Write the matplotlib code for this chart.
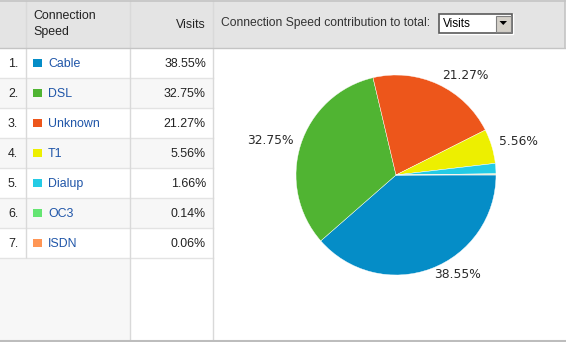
import matplotlib
matplotlib.use("Agg")
import matplotlib.pyplot as plt
from matplotlib.patches import Rectangle, Polygon

# Connection speed breakdown
categories = ["Cable", "DSL", "Unknown", "T1", "Dialup", "OC3", "ISDN"]
visits_pct = [38.55, 32.75, 21.27, 5.56, 1.66, 0.14, 0.06]
colors = ["#058dc7", "#50b432", "#ed561b", "#edef00", "#24cbe5", "#64e572", "#ff9655"]
header_name = "Connection\nSpeed"
header_value = "Visits"
panel_title = "Connection Speed contribution to total:"
metric_choice = "Visits"

W, H = 566, 342
fig = plt.figure(figsize=(W / 100, H / 100), dpi=100)
bg = fig.add_axes([0, 0, 1, 1])
bg.set_xlim(0, W)
bg.set_ylim(H, 0)
bg.axis("off")

TABLE_FONT = "Liberation Sans"
FS = 8.9
grid = "#d9d9d9"
head_bg = "#e4e4e4"
header_h = 48
row_h = 30
col_x = [0, 26, 130, 213, 565]
bottom = 340.5

# header band
bg.add_patch(Rectangle((0, 0), col_x[4], header_h, fc=head_bg, ec="none"))

# rows
n = len(categories)
for i, (name, val, c) in enumerate(zip(categories, visits_pct, colors)):
    y0 = header_h + i * row_h
    fill = "#ffffff" if i % 2 == 0 else "#f7f7f7"
    bg.add_patch(Rectangle((0, y0), col_x[3], row_h, fc=fill, ec="none"))
    yc = y0 + row_h / 2
    bg.text(8, yc + 0.8, f"{i + 1}.", fontsize=FS, family=TABLE_FONT,
            color="#222222", ha="left", va="center")
    bg.add_patch(Rectangle((33, yc - 4.5), 8.5, 8.5, fc=c, ec="none"))
    bg.text(48, yc + 0.8, name, fontsize=FS, family=TABLE_FONT,
            color="#1f55a8", ha="left", va="center")
    bg.text(206, yc + 0.8, f"{val:.2f}%", fontsize=FS, family=TABLE_FONT,
            color="#222222", ha="right", va="center")
    bg.plot([0, col_x[3]], [y0 + row_h, y0 + row_h], color="#e3e3e3", lw=1)

rows_end = header_h + n * row_h
# empty area under the rows
bg.add_patch(Rectangle((0, rows_end), col_x[2], bottom - rows_end, fc="#f7f7f7", ec="none"))

# header texts
bg.text(33, 24, header_name, fontsize=FS, family=TABLE_FONT, color="#222222",
        ha="left", va="center", linespacing=1.35)
bg.text(206, 25, header_value, fontsize=FS, family=TABLE_FONT, color="#222222",
        ha="right", va="center")
bg.text(221, 23, panel_title, fontsize=8.7, family=TABLE_FONT, color="#333333",
        ha="left", va="center")

# dropdown control
bg.add_patch(Rectangle((439, 14), 74, 20, fc="#ffffff", ec="#ffffff", lw=1))
bg.add_patch(Rectangle((439, 14), 73, 19, fc="#ffffff", ec="#5a5a5a", lw=1.2))
bg.add_patch(Rectangle((495.5, 15.5), 15.5, 16, fc="#d4d0c8", ec="#808080", lw=0.8))
bg.add_patch(Polygon([[499.5, 21], [507, 21], [503.25, 25]], closed=True, fc="#000000", ec="none"))
bg.text(443, 24, metric_choice, fontsize=8.5, family=TABLE_FONT, color="#000000",
        ha="left", va="center")

# grid lines
line_kw = dict(color=grid, lw=1, solid_capstyle="butt")
bg.plot([col_x[1], col_x[1]], [0, rows_end], **line_kw)
for x in col_x[2:4]:
    bg.plot([x, x], [0, bottom], **line_kw)
bg.plot([col_x[4], col_x[4]], [0, header_h], color="#c4c4c4", lw=1.2)
bg.plot([0, col_x[4]], [0.5, 0.5], color="#c4c4c4", lw=1.2)
bg.plot([0, col_x[4]], [header_h, header_h], color="#c4c4c4", lw=1)
bg.plot([0, col_x[4]], [bottom, bottom], color="#bdbdbd", lw=1.5)

# pie chart
cx, cy, r = 396, 175, 100
ax = fig.add_axes([(cx - r) / W, (H - cy - r) / H, 2 * r / W, 2 * r / H])
labels = [f"{v:.2f}%" if v >= 5 else "" for v in visits_pct]
wedges, texts = ax.pie(visits_pct, colors=colors, startangle=0, counterclock=False,
                       labels=labels, labeldistance=1.08,
                       wedgeprops=dict(linewidth=0.3, edgecolor="#ffffff"),
                       textprops=dict(fontsize=8.8, color="#2a2a2a", family="DejaVu Sans"))
for t in texts:
    t.set_clip_on(False)
    x, y = t.get_position()
    t.set_position((x, y + 0.02))
ax.set_xlim(-1, 1)
ax.set_ylim(-1, 1)
ax.set_aspect("equal")
ax.axis("off")

fig.savefig("out.png", dpi=100)
